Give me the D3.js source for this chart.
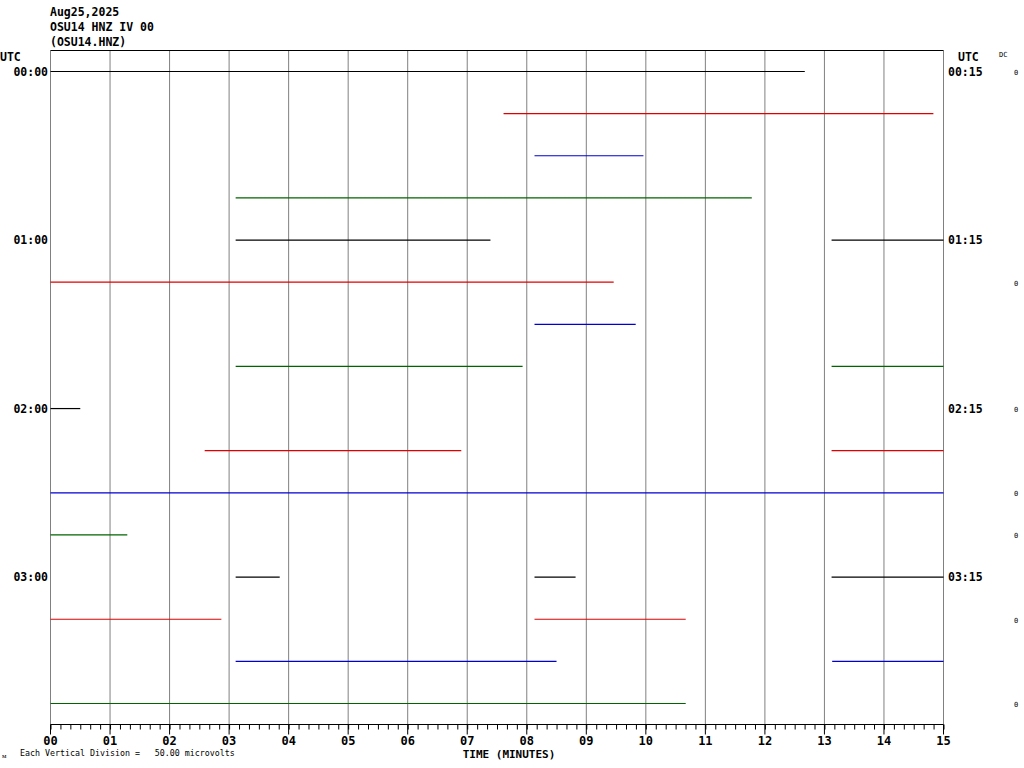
<!DOCTYPE html>
<html><head><meta charset="utf-8">
<script src="https://cdn.jsdelivr.net/npm/d3@7"></script>
<style>body{margin:0;background:#fff}svg{display:block}text{font-family:"DejaVu Sans Mono",monospace}</style>
</head><body><svg id="c" width="1024" height="768"></svg>
<script>
// ---- data ----
const titleLines = ["Aug25,2025", "OSU14 HNZ IV 00", "(OSU14.HNZ)"];
const rowCount = 16;                      // 15-minute rows
const leftLabels = ["00:00", "01:00", "02:00", "03:00"];   // every 4th row
const rightLabels = ["00:15", "01:15", "02:15", "03:15"];
const xTickLabels = ["00","01","02","03","04","05","06","07","08","09","10","11","12","13","14","15"];
const rowColors = ["#000000", "#e00000", "#0000d0", "#006400"];
// trace segments: row index, start minute, end minute
const segRow   = [0, 1, 2, 3, 4, 4, 5, 6, 7, 7, 8, 9, 9, 10, 11, 12, 12, 12, 13, 13, 14, 14, 15];
const segStart = [0, 7.61, 8.13, 3.11, 3.11, 13.12, 0, 8.13, 3.11, 13.12, 0, 2.59, 13.12, 0, 0, 3.11, 8.13, 13.12, 0, 8.13, 3.11, 13.13, 0];
const segEnd   = [12.67, 14.83, 9.96, 11.78, 7.39, 15, 9.46, 9.83, 7.93, 15, 0.50, 6.90, 15, 15, 1.29, 3.85, 8.82, 15, 2.87, 10.67, 8.50, 15, 10.67];
const zeroRows = [0, 5, 8, 10, 11, 13, 15];
const scaleNote = "Each Vertical Division =   50.00 microvolts";

// ---- drawing ----
const svg = d3.select("#c");
const x = d3.scaleLinear().domain([0, 15]).range([50.5, 943.5]);
const y = d3.scaleLinear().domain([0, rowCount - 1]).range([71.5, 703.5]);
const plotTop = 50.5, plotBottom = 724.5;

// title
svg.selectAll("text.title").data(titleLines).join("text")
  .attr("x", 50).attr("y", (d, i) => 16 + i * 15)
  .attr("font-size", 11.5).attr("font-weight", "bold").text(d => d);

// gridlines
svg.append("g").selectAll("line").data(d3.range(0, 16)).join("line")
  .attr("x1", d => x(d)).attr("x2", d => x(d)).attr("y1", plotTop).attr("y2", plotBottom)
  .attr("stroke", "#808080").attr("stroke-width", 1);
// top border
svg.append("line").attr("x1", x(0)).attr("x2", x(15)).attr("y1", plotTop).attr("y2", plotTop)
  .attr("stroke", "#000").attr("stroke-width", 1);

// traces
svg.append("g").selectAll("line").data(d3.range(segRow.length)).join("line")
  .attr("x1", i => x(segStart[i])).attr("x2", i => x(segEnd[i]))
  .attr("y1", i => y(segRow[i])).attr("y2", i => y(segRow[i]))
  .attr("stroke", i => rowColors[segRow[i] % 4]).attr("stroke-width", 1.2);

// x axis
const xAxis = d3.axisBottom(x).tickValues(d3.range(0, 15.001, 1 / 6)).tickSize(5).tickFormat("");
const ax = svg.append("g").attr("transform", `translate(0,${plotBottom})`).call(xAxis);
ax.select(".domain").remove();
ax.selectAll("line").attr("stroke", "#000");
svg.append("line").attr("x1", x(0)).attr("x2", x(15)).attr("y1", plotBottom).attr("y2", plotBottom).attr("stroke", "#000");
svg.append("g").selectAll("line").data(d3.range(0, 16)).join("line")
  .attr("x1", d => x(d)).attr("x2", d => x(d)).attr("y1", plotBottom).attr("y2", plotBottom + 10).attr("stroke", "#000");
svg.append("g").selectAll("text").data(xTickLabels).join("text")
  .attr("x", (d, i) => x(i)).attr("y", 745).attr("text-anchor", "middle")
  .attr("font-size", 12).attr("font-weight", "bold").text(d => d);
svg.append("text").attr("x", 509).attr("y", 758).attr("text-anchor", "middle")
  .attr("font-size", 11).attr("font-weight", "bold").text("TIME (MINUTES)");

// row labels
svg.append("text").attr("x", 0).attr("y", 61).attr("font-size", 11.5).attr("font-weight", "bold").text("UTC");
svg.append("text").attr("x", 958).attr("y", 61).attr("font-size", 11.5).attr("font-weight", "bold").text("UTC");
svg.append("text").attr("x", 999).attr("y", 57).attr("font-size", 7).text("DC");
svg.append("g").selectAll("text").data(leftLabels).join("text")
  .attr("x", 48).attr("y", (d, i) => y(i * 4) + 4).attr("text-anchor", "end")
  .attr("font-size", 11.5).attr("font-weight", "bold").text(d => d);
svg.append("g").selectAll("text").data(rightLabels).join("text")
  .attr("x", 948).attr("y", (d, i) => y(i * 4) + 4)
  .attr("font-size", 11.5).attr("font-weight", "bold").text(d => d);
svg.append("g").selectAll("text").data(zeroRows).join("text")
  .attr("x", 1016).attr("y", d => y(d) + 3.5).attr("text-anchor", "middle")
  .attr("font-size", 7).attr("fill", "#000").text("0");

// footer
svg.append("text").attr("x", 2).attr("y", 758).attr("font-size", 7).text("ᴍ");
svg.append("text").attr("x", 20).attr("y", 756).attr("font-size", 8.3).attr("xml:space", "preserve").style("white-space", "pre").text(scaleNote);
</script></body></html>
